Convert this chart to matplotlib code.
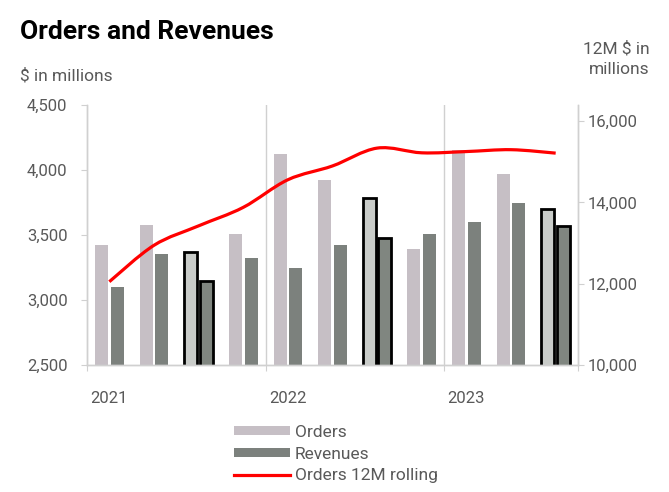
import matplotlib
matplotlib.use('Agg')
import matplotlib.pyplot as plt
import numpy as np
from matplotlib.path import Path
from matplotlib.patches import PathPatch, Patch
from matplotlib.lines import Line2D

# ---- data ----
quarters = ['Q1 2021', 'Q2 2021', 'Q3 2021', 'Q4 2021',
            'Q1 2022', 'Q2 2022', 'Q3 2022', 'Q4 2022',
            'Q1 2023', 'Q2 2023', 'Q3 2023']
orders = [3423, 3577, 3370, 3508, 4123, 3923, 3785, 3392, 4154, 3969, 3700]
revenues = [3100, 3354, 3148, 3323, 3246, 3423, 3477, 3505, 3600, 3746, 3569]
orders_12m = [12050, 12946, 13425, 13880, 14560, 14900, 15339, 15223, 15254, 15300, 15215]
year_labels = ['2021', '2022', '2023']
year_quarter_index = [0, 4, 8]
year_separators = [-0.5, 3.5, 7.5, 10.5]
highlighted = [2, 6, 10]
left_ticks = [2500, 3000, 3500, 4000, 4500]
right_ticks = [10000, 12000, 14000, 16000]

# ---- style ----
FONT = 'Roboto'
plt.rcParams['font.family'] = [FONT, 'DejaVu Sans']
TXT = '#595959'
AXC = '#d0d0d0'
ORD_C = '#c6bfc5'
REV_C = '#7c817d'
ORD_HL = '#c9ccc9'
REV_HL = '#808680'
RED = '#ff0000'

W, H = 669, 492
fig = plt.figure(figsize=(W / 100, H / 100), dpi=100)
ax = fig.add_axes([87 / W, 1 - 365 / H, (578 - 87) / W, (365 - 105) / H])
ax2 = ax.twinx()

x = np.arange(len(quarters))
bw = 0.29
off = 0.175
for i in x:
    hl = i in highlighted
    ax.bar(i - off, orders[i], width=bw,
           color=ORD_HL if hl else ORD_C,
           edgecolor='black' if hl else 'none', linewidth=2.0 if hl else 0, zorder=2)
    ax.bar(i + off, revenues[i], width=bw,
           color=REV_HL if hl else REV_C,
           edgecolor='black' if hl else 'none', linewidth=2.0 if hl else 0, zorder=2)

ax.set_xlim(-0.5, len(quarters) - 0.5)
ax.set_ylim(left_ticks[0], left_ticks[-1])
ax.set_yticks(left_ticks)
ax.set_yticklabels([f'{v:,}' for v in left_ticks])
ax2.set_ylim(10000, 16400)
ax2.set_yticks(right_ticks)
ax2.set_yticklabels([f'{v:,}' for v in right_ticks])

# smooth line (Catmull-Rom bezier through the data points)
pts = np.column_stack([x, orders_12m]).astype(float)
verts = [pts[0]]
codes = [Path.MOVETO]
n = len(pts)
for k in range(n - 1):
    p0 = pts[max(k - 1, 0)]
    p1 = pts[k]
    p2 = pts[k + 1]
    p3 = pts[min(k + 2, n - 1)]
    c1 = p1 + (p2 - p0) / 6.0
    c2 = p2 - (p3 - p1) / 6.0
    verts += [c1, c2, p2]
    codes += [Path.CURVE4] * 3
line_path = Path(verts, codes)
ax2.add_patch(PathPatch(line_path, facecolor='none', edgecolor=RED,
                        linewidth=2.3, capstyle='butt', zorder=5))

# grid / spines
ax.spines['top'].set_visible(False)
ax2.spines['top'].set_visible(False)
for a in (ax, ax2):
    for s in ['left', 'right', 'bottom']:
        a.spines[s].set_color(AXC)
        a.spines[s].set_linewidth(1.0)
for xs in year_separators[1:-1]:
    ax.axvline(xs, color=AXC, linewidth=1.0, zorder=1)

ax.set_xticks(year_separators)
ax.set_xticklabels([''] * len(year_separators))
ax.tick_params(axis='x', which='major', length=4, color=AXC, direction='out')
ax.set_xticks(year_quarter_index, minor=True)
ax.set_xticklabels(year_labels, minor=True)
ax.tick_params(axis='x', which='minor', length=0, pad=19, labelsize=12, labelcolor=TXT)
ax.tick_params(axis='y', length=4, color=AXC, pad=10, labelsize=12, labelcolor=TXT)
ax2.tick_params(axis='y', length=4, color=AXC, pad=3, labelsize=12, labelcolor=TXT)
ax.patch.set_visible(False)

# texts
fig.text(20 / W, 1 - 32 / H, 'Orders and Revenues', fontsize=19, fontweight='bold',
         color='black', ha='left', va='center')
fig.text(20 / W, 1 - 76 / H, '$ in millions', fontsize=12.5, color=TXT, ha='left', va='center')
fig.text(650 / W, 1 - 59 / H, '12M $ in\nmillions', fontsize=12.5, color=TXT,
         ha='right', va='center', linespacing=1.5)

handles = [Patch(facecolor=ORD_C, edgecolor='none'),
           Patch(facecolor=REV_C, edgecolor='none'),
           Line2D([0], [0], color=RED, linewidth=2.3)]
fig.legend(handles, ['Orders', 'Revenues', 'Orders 12M rolling'],
           loc='upper left', bbox_to_anchor=(234 / W, 1 - 425 / H), frameon=False,
           fontsize=12.5, labelcolor=TXT, handlelength=3.2, handleheight=0.4,
           handletextpad=0.3, labelspacing=0.38, borderaxespad=0, borderpad=0)

fig.savefig('out.png', dpi=100)
